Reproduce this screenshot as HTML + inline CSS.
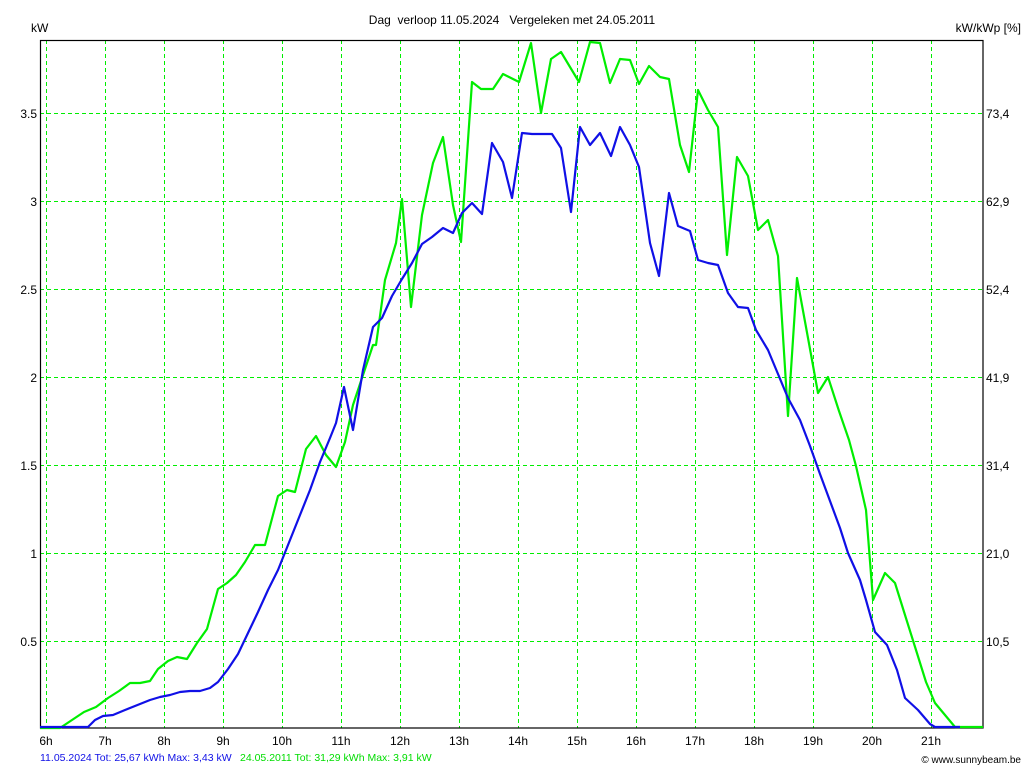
<!DOCTYPE html>
<html><head><meta charset="utf-8"><style>
html,body{margin:0;padding:0;background:#fff}
svg{display:block}
text{font-family:"Liberation Sans",sans-serif;font-size:12px;fill:#000}
</style></head><body>
<svg width="1024" height="768" viewBox="0 0 1024 768" xmlns="http://www.w3.org/2000/svg">
<rect width="1024" height="768" fill="#fff"/>
<g stroke="#00ee00" stroke-width="1" stroke-dasharray="4,3" fill="none">
<line x1="40" y1="113.5" x2="983" y2="113.5"/>
<line x1="40" y1="201.5" x2="983" y2="201.5"/>
<line x1="40" y1="289.5" x2="983" y2="289.5"/>
<line x1="40" y1="377.5" x2="983" y2="377.5"/>
<line x1="40" y1="465.5" x2="983" y2="465.5"/>
<line x1="40" y1="553.5" x2="983" y2="553.5"/>
<line x1="40" y1="641.5" x2="983" y2="641.5"/>
<line x1="46.5" y1="40" x2="46.5" y2="728"/>
<line x1="105.5" y1="40" x2="105.5" y2="728"/>
<line x1="164.5" y1="40" x2="164.5" y2="728"/>
<line x1="223.5" y1="40" x2="223.5" y2="728"/>
<line x1="282.5" y1="40" x2="282.5" y2="728"/>
<line x1="341.5" y1="40" x2="341.5" y2="728"/>
<line x1="400.5" y1="40" x2="400.5" y2="728"/>
<line x1="459.5" y1="40" x2="459.5" y2="728"/>
<line x1="518.5" y1="40" x2="518.5" y2="728"/>
<line x1="577.5" y1="40" x2="577.5" y2="728"/>
<line x1="636.5" y1="40" x2="636.5" y2="728"/>
<line x1="695.5" y1="40" x2="695.5" y2="728"/>
<line x1="754.5" y1="40" x2="754.5" y2="728"/>
<line x1="813.5" y1="40" x2="813.5" y2="728"/>
<line x1="872.5" y1="40" x2="872.5" y2="728"/>
<line x1="931.5" y1="40" x2="931.5" y2="728"/>
</g>
<rect x="40.5" y="40.5" width="942.5" height="687.5" fill="none" stroke="#000" stroke-width="1.2"/>
<polyline fill="none" stroke="#00ee00" stroke-width="2.2" stroke-linejoin="round" points="40,728 60,728 72,720 84,712 96,707 108,698 119,691 130,683 140,683 150,681 158,669 168,661 177,657 187,659 197,643 207,629 218,589 227,583 236,575 245,562 255,545 265,545 278,496 287,490 295,492 306,449 316,436 326,455 336,467 345,442 353,405 363,375 373,345 376,345 385,280 396,243 402,199 411,307 422,215 433,163 443,137 453,205 461,242 472,82 481,89 493,89 503,74 519,82 531,43 541,113 551,59 561,52 579,82 590,42 600,43 610,83 620,59 630,60 639,84 649,66 660,77 669,79 680,145 689,172 698,90 708,110 718,127 727,255 737,157 748,176 758,230 768,220 778,256 788,416 797,278 808,338 818,393 828,377 839,411 849,440 856,466 866,510 873,600 885,573 895,583 905,615 916,650 926,682 935,703 955,727 983,727"/>
<polyline fill="none" stroke="#1010e6" stroke-width="2.2" stroke-linejoin="round" points="40,727 70,727 88,727 95,720 103,716 113,715 125,710 140,704 150,700 160,697 170,695 180,692 190,691 200,691 210,688 218,682 228,669 238,654 248,633 258,612 268,590 278,570 290,540 300,515 310,490 320,462 330,438 336,423 344,387 353,430 363,370 373,327 382,318 392,296 402,279 412,263 422,244 432,237 443,228 453,233 462,213 472,203 482,214 492,143 503,162 512,198 522,133 532,134 552,134 561,148 571,212 580,127 590,145 600,133 611,156 620,127 630,145 639,167 650,243 659,276 669,193 678,226 690,231 698,260 708,263 718,265 728,293 738,307 748,308 756,330 768,350 778,374 788,398 800,420 810,446 820,474 830,501 840,528 848,553 860,580 866,600 875,632 887,645 897,670 905,698 918,710 930,724 935,727 960,727"/>
<text x="512" y="24" text-anchor="middle">Dag&#160; verloop 11.05.2024&#160;&#160; Vergeleken met 24.05.2011</text>
<text x="31" y="32">kW</text>
<text x="1021" y="32" text-anchor="end">kW/kWp [%]</text>
<g text-anchor="end">
<text x="37" y="118">3.5</text><text x="37" y="206">3</text><text x="37" y="294">2.5</text><text x="37" y="382">2</text><text x="37" y="470">1.5</text><text x="37" y="558">1</text><text x="37" y="646">0.5</text>
</g>
<g>
<text x="986" y="118">73,4</text><text x="986" y="206">62,9</text><text x="986" y="294">52,4</text><text x="986" y="382">41,9</text><text x="986" y="470">31,4</text><text x="986" y="558">21,0</text><text x="986" y="646">10,5</text>
</g>
<g text-anchor="middle">
<text x="46" y="745">6h</text><text x="105" y="745">7h</text><text x="164" y="745">8h</text><text x="223" y="745">9h</text><text x="282" y="745">10h</text><text x="341" y="745">11h</text><text x="400" y="745">12h</text><text x="459" y="745">13h</text><text x="518" y="745">14h</text><text x="577" y="745">15h</text><text x="636" y="745">16h</text><text x="695" y="745">17h</text><text x="754" y="745">18h</text><text x="813" y="745">19h</text><text x="872" y="745">20h</text><text x="931" y="745">21h</text>
</g>
<text x="40" y="761" style="font-size:10.5px;fill:#1010e6">11.05.2024 Tot: 25,67 kWh Max: 3,43 kW</text>
<text x="240" y="761" style="font-size:10.5px;fill:#00dd00">24.05.2011 Tot: 31,29 kWh Max: 3,91 kW</text>
<text x="1021" y="763" text-anchor="end" style="font-size:10px">© www.sunnybeam.be</text>
</svg>
</body></html>
